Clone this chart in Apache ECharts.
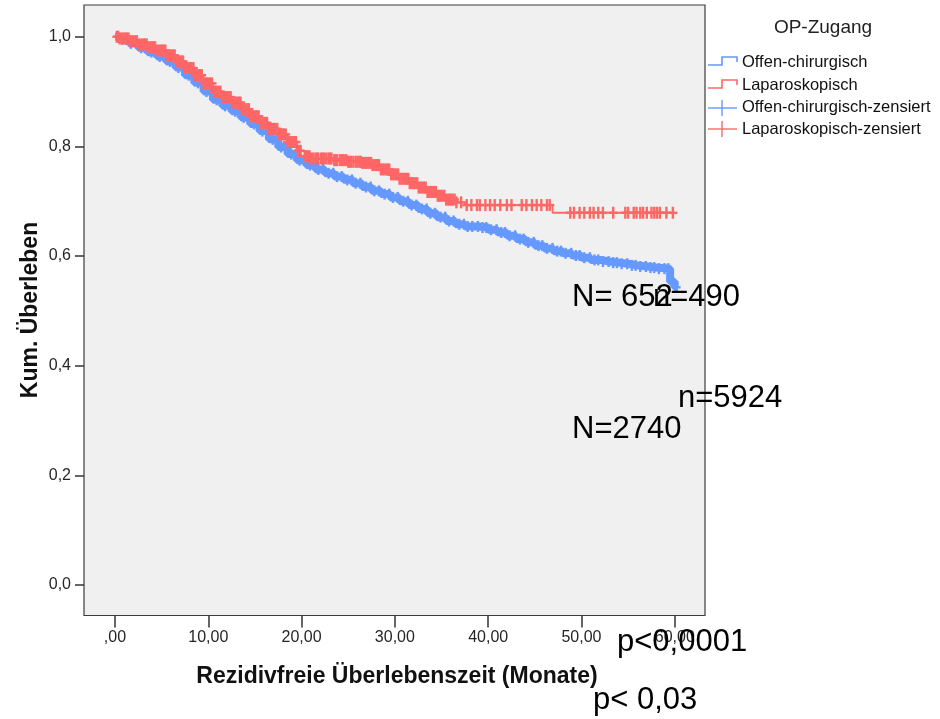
<!DOCTYPE html>
<html>
<head>
<meta charset="utf-8">
<script src="https://cdn.jsdelivr.net/npm/echarts@6/dist/echarts.min.js"></script>
<style>
  html, body { margin: 0; padding: 0; background: #ffffff; }
  #chart { width: 940px; height: 719px; }
</style>
</head>
<body>
<div id="chart"></div>
<script>
// Kaplan-Meier: rezidivfreies Überleben nach OP-Zugang

// Offen-chirurgisch: Stufenzeiten (Monate) und Überlebensanteil ab dieser Zeit
const openTimes = [0, 0.5, 1.5, 2.5, 3.5, 4.5, 5.5, 6.5, 7.5, 8.5, 9.5, 10.5, 11.5, 12.5, 13.5, 14.5,
  15.5, 16.5, 17.5, 18.5, 19.5, 20.5, 21.5, 22.5, 23.5, 24.5, 25.5, 26.5, 27.5, 28.5, 29.5,
  30.5, 31.5, 32.5, 33.5, 34.5, 35.5, 36.5, 37.5, 39.0, 40.0, 41.0, 42.0, 43.0, 44.0, 45.0,
  46.0, 47.0, 48.0, 49.0, 50.0, 51.0, 52.0, 53.0, 54.0, 55.0, 56.0, 57.0, 58.0, 59.5, 60.0];
const openSurv = [1.000, 0.995, 0.988, 0.980, 0.972, 0.964, 0.955, 0.944, 0.930, 0.916, 0.900, 0.885,
  0.874, 0.864, 0.853, 0.841, 0.828, 0.813, 0.799, 0.786, 0.775, 0.766, 0.758, 0.751, 0.745,
  0.739, 0.733, 0.726, 0.719, 0.713, 0.707, 0.700, 0.693, 0.686, 0.678, 0.671, 0.664, 0.658,
  0.654, 0.652, 0.648, 0.643, 0.637, 0.631, 0.625, 0.619, 0.614, 0.609, 0.605, 0.601, 0.597,
  0.593, 0.590, 0.588, 0.586, 0.583, 0.581, 0.579, 0.577, 0.553, 0.543];
const openEnd = 60.3;
// Offen-chirurgisch: zensierte Fälle (Monate)
const openCensored = [0.3, 0.8, 1.2, 1.7, 2.3, 2.8, 3.2, 3.9, 4.3, 4.8, 5.4, 5.9, 6.3, 6.8, 7.4, 7.9,
  8.3, 8.9, 9.4, 9.8, 10.3, 10.9, 11.4, 11.8, 12.3, 12.9, 13.4, 13.8, 14.3, 14.9, 15.4, 15.8,
  16.3, 16.9, 17.4, 17.8, 18.3, 18.9, 19.4, 19.8, 20.3, 20.9, 21.4, 21.8, 22.3, 22.9, 23.4,
  23.8, 24.3, 24.9, 25.4, 25.8, 26.3, 26.9, 27.4, 27.8, 28.3, 28.9, 29.4, 29.8, 30.3, 30.9,
  31.4, 31.8, 32.3, 32.9, 33.4, 33.8, 34.3, 34.9, 35.4, 35.8, 36.3, 36.9, 37.4, 37.8, 38.3,
  38.9, 39.4, 39.8, 40.3, 40.9, 41.4, 41.8, 42.3, 42.9, 43.4, 43.8, 44.3, 44.9, 45.4, 45.8,
  46.3, 46.9, 47.4, 47.8, 48.3, 48.9, 49.4, 49.8, 50.3, 50.9, 51.4, 51.8, 52.3, 52.9, 53.4,
  53.8, 54.3, 54.9, 55.4, 55.8, 56.3, 56.9, 57.4, 57.8, 58.3, 58.9, 59.3, 59.7, 60.2];

// Laparoskopisch: Stufenzeiten (Monate) und Überlebensanteil
const lapTimes = [0, 0.5, 1.5, 2.5, 3.5, 4.5, 5.5, 6.5, 7.5, 8.5, 9.5, 10.5, 11.5, 12.5, 13.5, 14.5,
  15.5, 16.5, 17.5, 18.5, 19.5, 20.3, 21.0, 23.5, 25.0, 26.5, 27.5, 28.5, 29.5, 30.5, 31.5,
  32.5, 33.5, 34.5, 35.5, 36.5, 37.5, 46.9];
const lapSurv = [1.000, 0.997, 0.992, 0.986, 0.981, 0.975, 0.966, 0.955, 0.943, 0.930, 0.915, 0.900,
  0.890, 0.880, 0.868, 0.855, 0.843, 0.832, 0.822, 0.808, 0.792, 0.782, 0.778, 0.775, 0.772,
  0.770, 0.766, 0.758, 0.749, 0.741, 0.733, 0.725, 0.717, 0.710, 0.703, 0.698, 0.693, 0.679];
const lapEnd = 59.8;
// Laparoskopisch: zensierte Fälle (Monate)
const lapCensored = [0.2, 0.35, 0.5, 0.7, 0.9, 1.1, 1.3, 1.45, 1.6, 1.8, 2.0, 2.2, 2.35, 2.5, 2.7,
  2.9, 3.1, 3.25, 3.4, 3.6, 3.8, 4.0, 4.15, 4.3, 4.5, 4.7, 4.9, 5.05, 5.2, 5.4, 5.6, 5.8, 5.95,
  6.1, 6.3, 6.4, 6.6, 6.8, 7.0, 7.15, 7.3, 7.5, 7.7, 7.9, 8.05, 8.2, 8.4, 8.6, 8.8, 9.0, 9.1,
  9.3, 9.5, 9.7, 9.85, 10.0, 10.2, 10.4, 10.6, 10.75, 10.9, 11.1, 11.3, 11.5, 11.65, 11.8, 12.0,
  12.2, 12.4, 12.55, 12.7, 12.9, 13.1, 13.3, 13.45, 13.6, 13.8, 14.0, 14.2, 14.35, 14.5, 14.7,
  14.9, 15.1, 15.25, 15.4, 15.6, 15.8, 16.0, 16.15, 16.3, 16.5, 16.7, 16.9, 17.05, 17.2, 17.4,
  17.6, 17.8, 17.95, 18.1, 18.3, 18.5, 18.7, 18.85, 19.0, 19.2, 19.4, 19.6, 19.75, 19.9,
  20.4, 20.55, 20.7, 20.85, 21.0, 21.25, 21.5, 21.65, 21.8, 22.1, 22.25, 22.4, 22.65, 22.9,
  23.05, 23.2, 23.5, 23.65, 23.8, 24.1, 24.3, 24.45, 24.6, 24.8, 25.0, 25.15, 25.3, 25.55,
  25.8, 26.0, 26.2, 26.35, 26.5, 26.7, 26.9, 27.1, 27.3, 27.45, 27.6, 27.8, 28.0, 28.15, 28.3,
  28.5, 28.7, 28.9, 29.1, 29.25, 29.4, 29.6, 29.8, 30.0, 30.2, 30.35, 30.5, 30.7, 30.9, 31.1,
  31.3, 31.45, 31.6, 31.8, 32.0, 32.2, 32.4, 32.55, 32.7, 32.9, 33.1, 33.3, 33.5, 33.65, 33.8,
  34.0, 34.2, 34.4, 34.6, 34.75, 34.9, 35.1, 35.3, 35.5, 35.7, 35.85, 36.0, 36.2, 36.4, 36.6,
  37.1, 37.7, 38.2, 38.8, 39.1, 39.7, 40.2, 40.7, 41.3, 42.0, 42.5, 43.6, 44.1, 44.7, 45.2,
  45.7, 46.3, 46.6, 48.8, 49.2, 49.8, 50.3, 50.9, 51.3, 51.8, 52.3, 53.4, 54.7, 55.0, 55.6,
  55.9, 56.3, 56.6, 57.0, 57.5, 57.8, 58.1, 58.4, 59.1, 59.8];

// Achsenbeschriftungen
const xTicks = [0, 10, 20, 30, 40, 50, 60];
const yTicks = [0, 0.2, 0.4, 0.6, 0.8, 1.0];

// Fallzahlen und p-Werte
const noteTexts = ['N= 652', 'n=490', 'n=5924', 'N=2740', 'p<0,0001', 'p< 0,03'];

const BLUE = '#6699ff';
const RED = '#ff6666';
const FONT = '"Liberation Sans", Arial, Helvetica, sans-serif';

function stepAt(times, surv, t) {
  let v = surv[0];
  for (let i = 0; i < times.length; i++) {
    if (times[i] <= t) v = surv[i]; else break;
  }
  return v;
}
function curveData(times, surv, end) {
  const d = times.map((t, i) => [t, surv[i]]);
  d.push([end, surv[surv.length - 1]]);
  return d;
}
function censorData(cens, times, surv) {
  return cens.map(t => [t, stepAt(times, surv, t)]);
}
function plusMark(color, halfW, halfH, lw) {
  return function (params, api) {
    const p = api.coord([api.value(0), api.value(1)]);
    const st = { stroke: color, lineWidth: lw, fill: null };
    return {
      type: 'group',
      children: [
        { type: 'line', shape: { x1: p[0] - halfW, y1: p[1], x2: p[0] + halfW, y2: p[1] }, style: st },
        { type: 'line', shape: { x1: p[0], y1: p[1] - halfH, x2: p[0], y2: p[1] + halfH }, style: st }
      ]
    };
  };
}
const comma = (v, d) => v.toFixed(d).replace('.', ',');

const chart = echarts.init(document.getElementById('chart'), null, { renderer: 'canvas' });

// Legende
const legendX0 = 708, legendTextX = 742;
const legendGraphics = [
  { type: 'text', x: 823, y: 28, style: { text: 'OP-Zugang', font: '19px ' + FONT, fill: '#222', align: 'center', verticalAlign: 'middle' } },
  { type: 'polyline', shape: { points: [[legendX0, 65], [722, 65], [722, 57], [737, 57], [737, 62]] }, style: { stroke: BLUE, lineWidth: 1.6, fill: null } },
  { type: 'text', x: legendTextX, y: 62, style: { text: 'Offen-chirurgisch', font: '16.5px ' + FONT, fill: '#111', verticalAlign: 'middle' } },
  { type: 'polyline', shape: { points: [[legendX0, 88], [722, 88], [722, 80], [737, 80], [737, 85]] }, style: { stroke: RED, lineWidth: 1.6, fill: null } },
  { type: 'text', x: legendTextX, y: 85, style: { text: 'Laparoskopisch', font: '16.5px ' + FONT, fill: '#111', verticalAlign: 'middle' } },
  { type: 'line', shape: { x1: legendX0, y1: 108, x2: 737, y2: 108 }, style: { stroke: BLUE, lineWidth: 1.4 } },
  { type: 'line', shape: { x1: 722, y1: 100, x2: 722, y2: 116 }, style: { stroke: BLUE, lineWidth: 1.4 } },
  { type: 'text', x: legendTextX, y: 107, style: { text: 'Offen-chirurgisch-zensiert', font: '16.5px ' + FONT, fill: '#111', verticalAlign: 'middle' } },
  { type: 'line', shape: { x1: legendX0, y1: 129, x2: 737, y2: 129 }, style: { stroke: RED, lineWidth: 1.4 } },
  { type: 'line', shape: { x1: 722, y1: 121, x2: 722, y2: 137 }, style: { stroke: RED, lineWidth: 1.4 } },
  { type: 'text', x: legendTextX, y: 129, style: { text: 'Laparoskopisch-zensiert', font: '16.5px ' + FONT, fill: '#111', verticalAlign: 'middle' } }
];

// Achsentitel
const titleGraphics = [
  { type: 'text', x: 397, y: 677, style: { text: 'Rezidivfreie Überlebenszeit (Monate)', font: 'bold 23px ' + FONT, fill: '#111', align: 'center', verticalAlign: 'middle' } },
  { type: 'text', x: 31, y: 310, rotation: Math.PI / 2, style: { text: 'Kum. Überleben', font: 'bold 23px ' + FONT, fill: '#111', align: 'center', verticalAlign: 'middle' } }
];

// Anmerkungen
const notePos = [[572, 297], [653, 297], [678, 398], [572, 429], [617, 642], [593, 700]];
const noteGraphics = noteTexts.map((t, i) => ({
  type: 'text', x: notePos[i][0], y: notePos[i][1], z: 100,
  style: { text: t, font: '31px ' + FONT, fill: '#000', verticalAlign: 'middle' }
}));

chart.setOption({
  animation: false,
  backgroundColor: '#ffffff',
  grid: {
    left: 84, top: 5, right: 235, bottom: 103.5,
    show: true, backgroundColor: '#f0f0f0', borderColor: '#3c3c3c', borderWidth: 1.2,
    containLabel: false
  },
  xAxis: {
    type: 'value', min: -3.32, max: 63.24,
    axisLine: { show: false, onZero: false },
    splitLine: { show: false },
    axisTick: { show: true, inside: false, length: 12, customValues: xTicks, lineStyle: { color: '#333', width: 1.5 } },
    axisLabel: {
      customValues: xTicks, margin: 14, fontSize: 16, fontFamily: FONT, color: '#262626',
      formatter: v => (v === 0 ? ',00' : comma(v, 2))
    }
  },
  yAxis: {
    type: 'value', min: -0.0557, max: 1.058,
    axisLine: { show: false, onZero: false },
    splitLine: { show: false },
    axisTick: { show: true, inside: false, length: 9, customValues: yTicks, lineStyle: { color: '#333', width: 1.5 } },
    axisLabel: {
      customValues: yTicks, margin: 13, fontSize: 16, fontFamily: FONT, color: '#262626',
      formatter: v => comma(v, 1)
    }
  },
  graphic: [].concat(titleGraphics, legendGraphics, noteGraphics),
  series: [
    {
      name: 'Offen-chirurgisch', type: 'line', step: 'end', showSymbol: false,
      data: curveData(openTimes, openSurv, openEnd),
      lineStyle: { color: BLUE, width: 8 }, z: 2
    },
    {
      name: 'Offen-chirurgisch-zensiert', type: 'custom',
      data: censorData(openCensored, openTimes, openSurv),
      renderItem: plusMark(BLUE, 4, 5.5, 2.4), z: 3
    },
    {
      name: 'Laparoskopisch', type: 'line', step: 'end', showSymbol: false,
      data: curveData(lapTimes, lapSurv, lapEnd),
      lineStyle: { color: RED, width: 1.8 }, z: 4
    },
    {
      name: 'Laparoskopisch-zensiert', type: 'custom',
      data: censorData(lapCensored, lapTimes, lapSurv),
      renderItem: plusMark(RED, 4.5, 6, 2.4), z: 5
    }
  ]
});
</script>
</body>
</html>
